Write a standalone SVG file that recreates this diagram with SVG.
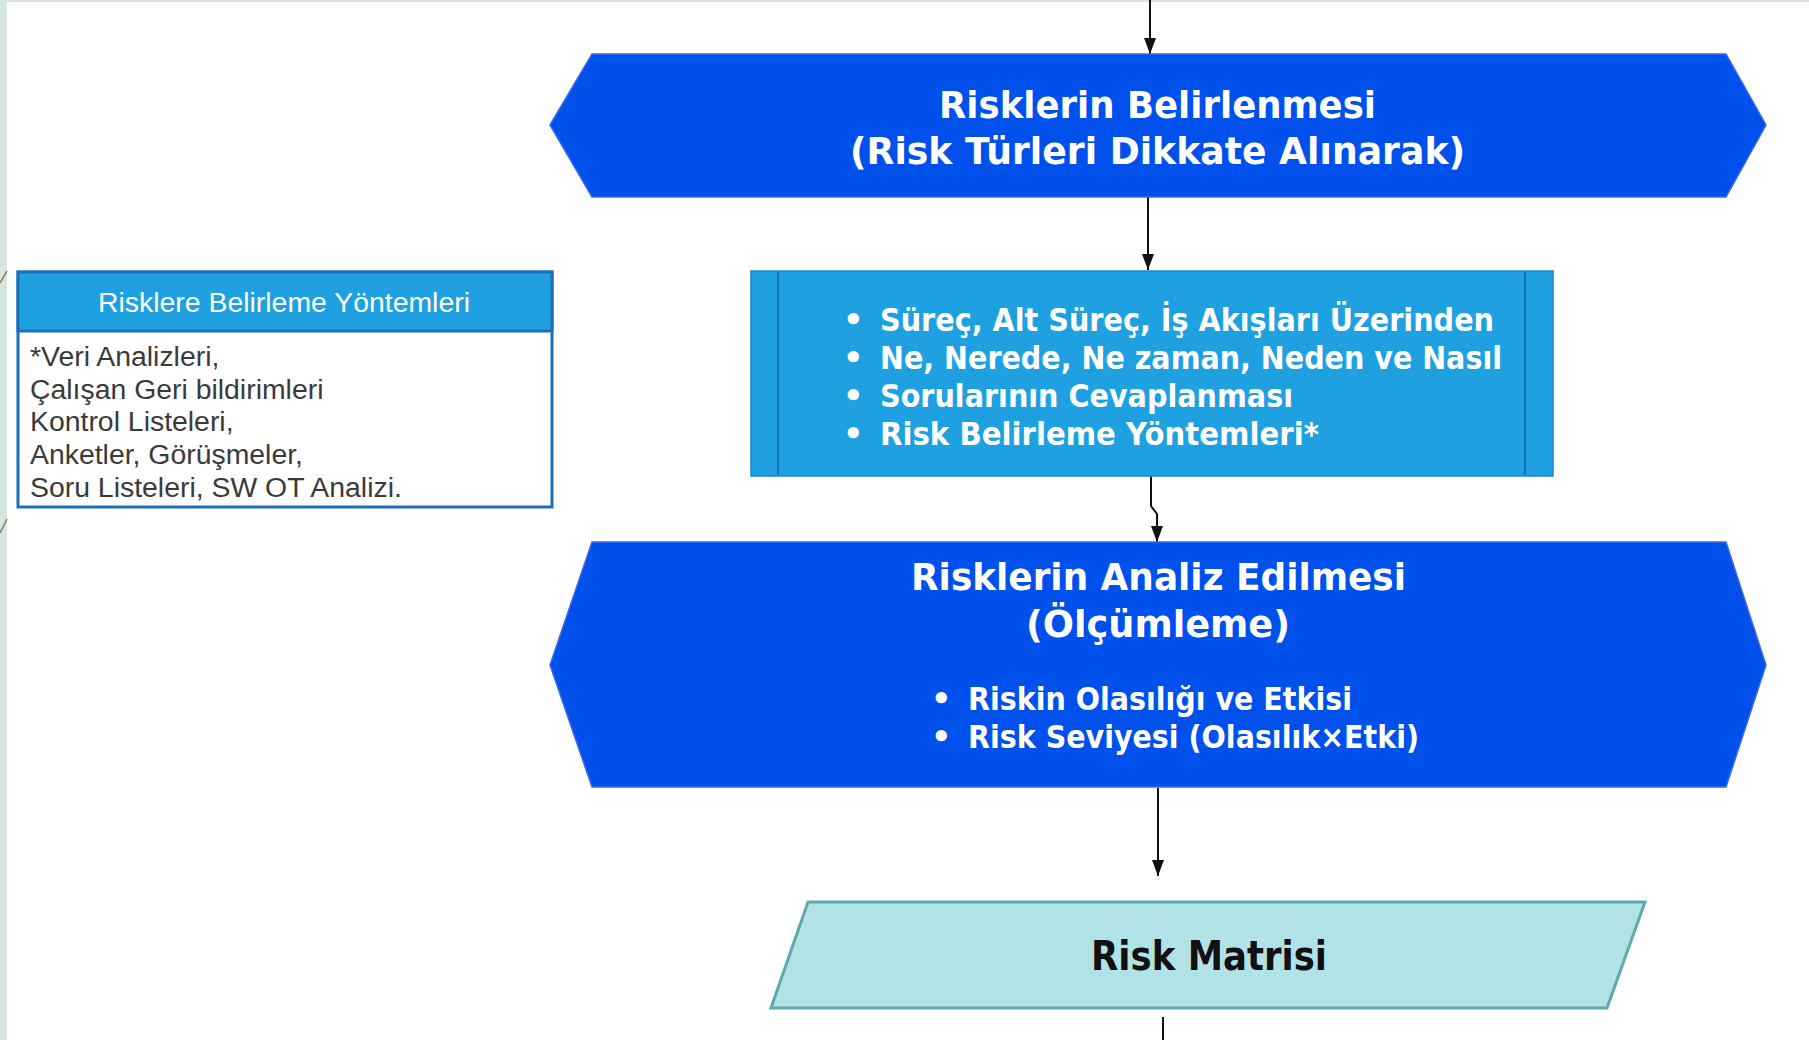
<svg xmlns="http://www.w3.org/2000/svg" width="1809" height="1040" viewBox="0 0 1809 1040">
<defs>
<style>
.hex{fill:#0050ec;stroke:#3a68e6;stroke-width:1.5}
.proc{fill:#1ea0e1;stroke:#1a86c8;stroke-width:1.5}
.procline{stroke:#1572b5;stroke-width:2}
.bold{font-family:"DejaVu Sans","Liberation Sans",sans-serif;font-weight:bold;fill:#ffffff}
.t38{font-size:38px}
.t32{font-size:32px}
.reg{font-family:"Liberation Sans",Arial,sans-serif;fill:#3a3a3a;font-size:28.4px}
.conn{stroke:#111111;stroke-width:2;fill:none}
</style>
<marker id="arrw" viewBox="0 0 10 10" refX="10" refY="5" markerWidth="16" markerHeight="12" markerUnits="userSpaceOnUse" orient="auto" preserveAspectRatio="none">
<path d="M0,0 L10,5 L0,10 z" fill="#111111"/>
</marker>
</defs>
<rect x="0" y="0" width="1809" height="1040" fill="#ffffff"/>
<rect x="0" y="0" width="7" height="1040" fill="#d4e6de"/>
<rect x="0" y="0" width="1809" height="2" fill="#d4e6de"/>
<line x1="0" y1="283" x2="7" y2="271" stroke="#8a7d5a" stroke-width="1.5"/>
<line x1="0" y1="533" x2="7" y2="519" stroke="#8a7d5a" stroke-width="1.5"/>

<g id="connectors">
<line class="conn" x1="1150" y1="0" x2="1150" y2="54" marker-end="url(#arrw)"/>
<line class="conn" x1="1148" y1="197" x2="1148" y2="270" marker-end="url(#arrw)"/>
<polyline class="conn" points="1151,476 1151,506 1157,514 1157,542" marker-end="url(#arrw)"/>
<line class="conn" x1="1158" y1="788" x2="1158" y2="876" marker-end="url(#arrw)"/>
<line class="conn" x1="1163" y1="1017" x2="1163" y2="1040"/>
</g>

<g id="node-belirlenmesi">
<polygon class="hex" points="550,125 592,54 1726,54 1766,125 1726,197 592,197"/>
<text class="bold t38" x="939" y="118" textLength="437" lengthAdjust="spacingAndGlyphs">Risklerin Belirlenmesi</text>
<text class="bold t38" x="850" y="164" textLength="615" lengthAdjust="spacingAndGlyphs">(Risk Türleri Dikkate Alınarak)</text>
</g>

<g id="node-yontemler">
<rect class="proc" x="751" y="271" width="802" height="205"/>
<line class="procline" x1="778" y1="272" x2="778" y2="475"/>
<line class="procline" x1="1525" y1="272" x2="1525" y2="475"/>
<g class="bold t32">
<text x="843" y="331">•</text>
<text x="880" y="331" textLength="614" lengthAdjust="spacingAndGlyphs">Süreç, Alt Süreç, İş Akışları Üzerinden</text>
<text x="843" y="369">•</text>
<text x="880" y="369" textLength="622" lengthAdjust="spacingAndGlyphs">Ne, Nerede, Ne zaman, Neden ve Nasıl</text>
<text x="843" y="407">•</text>
<text x="880" y="407" textLength="413" lengthAdjust="spacingAndGlyphs">Sorularının Cevaplanması</text>
<text x="843" y="445">•</text>
<text x="880" y="445" textLength="439" lengthAdjust="spacingAndGlyphs">Risk Belirleme Yöntemleri*</text>
</g>
</g>

<g id="node-analiz">
<polygon class="hex" points="550,665 592,542 1726,542 1766,665 1726,787 592,787"/>
<text class="bold t38" x="911" y="590" textLength="495" lengthAdjust="spacingAndGlyphs">Risklerin Analiz Edilmesi</text>
<text class="bold t38" x="1026" y="637" textLength="264" lengthAdjust="spacingAndGlyphs">(Ölçümleme)</text>
<g class="bold t32">
<text x="931" y="710">•</text>
<text x="968" y="710" textLength="384" lengthAdjust="spacingAndGlyphs">Riskin Olasılığı ve Etkisi</text>
<text x="931" y="748">•</text>
<text x="968" y="748" textLength="451" lengthAdjust="spacingAndGlyphs">Risk Seviyesi (Olasılık×Etki)</text>
</g>
</g>

<g id="node-matris">
<polygon points="808,902 1645,902 1607,1008 771,1008" fill="#b0e2e6" stroke="#5fa9ab" stroke-width="3"/>
<text x="1091" y="970" font-family="DejaVu Sans,Liberation Sans,sans-serif" font-weight="bold" font-size="40" fill="#111111" textLength="236" lengthAdjust="spacingAndGlyphs">Risk Matrisi</text>
</g>

<g id="node-yontemler-listesi">
<rect x="18" y="272" width="534" height="235" fill="#ffffff" stroke="#1c70b5" stroke-width="3"/>
<rect x="18" y="272" width="534" height="59" fill="#1ea0e1" stroke="#1c70b5" stroke-width="3"/>
<text x="284" y="312" text-anchor="middle" font-family="Liberation Sans,Arial,sans-serif" font-size="27" fill="#ffffff" textLength="372" lengthAdjust="spacingAndGlyphs">Risklere Belirleme Yöntemleri</text>
<text class="reg" x="30" y="366">*Veri Analizleri,</text>
<text class="reg" x="30" y="399">Çalışan Geri bildirimleri</text>
<text class="reg" x="30" y="431">Kontrol Listeleri,</text>
<text class="reg" x="30" y="464">Anketler, Görüşmeler,</text>
<text class="reg" x="30" y="497">Soru Listeleri, SW OT Analizi.</text>
</g>
</svg>
